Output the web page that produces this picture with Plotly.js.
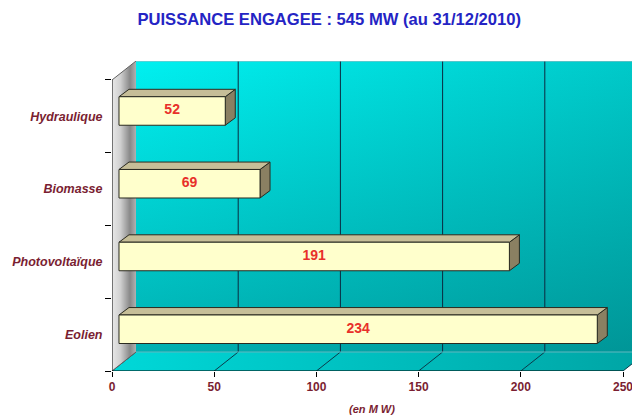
<!DOCTYPE html>
<html>
<head>
<meta charset="utf-8">
<script src="https://cdn.plot.ly/plotly-3.0.1.min.js"></script>
<style>html,body{margin:0;padding:0;background:#fff;}#chart{width:632px;height:416px;}</style>
</head>
<body>
<div id="chart"></div>
<script>
// ---- data ----
const categories = ['Eolien', 'Photovoltaïque', 'Biomasse', 'Hydraulique'];
const values = [234, 191, 69, 52];
const xTicks = [0, 50, 100, 150, 200, 250];
const chartTitle = 'PUISSANCE ENGAGEE : 545 MW (au 31/12/2010)';
const xTitle = '(en M W)';

// ---- 3D geometry (axis units) ----
const X_MAX = 254.4;          // visible x range
const DX = 11.74, DY = 0.261; // full depth of the box
const BX = 3.42, BY = 0.074;  // bar front offset inside box
const BDX = 4.89, BDY = 0.102;// bar depth
const HH = 0.196;             // half bar height
const Y0 = -0.5, Y1 = categories.length - 0.5;
const labelColor = '#7A1E32';
const FONT = 'Liberation Sans, Arial, sans-serif';

const traces = [];
function poly(xs, ys, fill, line, extra) {
  const t = Object.assign({
    type: 'scatter', mode: 'lines', x: xs.concat([xs[0]]), y: ys.concat([ys[0]]),
    fill: 'toself', fillcolor: fill, hoverinfo: 'skip', showlegend: false,
    line: line || {width: 0, color: 'rgba(0,0,0,0)'}
  }, extra || {});
  traces.push(t);
}
const XR = X_MAX + 20;
// back wall
poly([DX, XR, XR, DX], [Y0 + DY, Y0 + DY, Y1 + DY, Y1 + DY], '#00E0E0', null,
  {fillgradient: {type: 'horizontal', colorscale: [[0, '#00F0F0'], [1, '#00C6C6']]}});
poly([DX, XR, XR, DX], [Y0 + DY, Y0 + DY, Y1 + DY, Y1 + DY], 'rgba(0,0,0,0)', null,
  {fillgradient: {type: 'vertical', colorscale: [[0, 'rgba(0,40,45,0.32)'], [1, 'rgba(0,40,45,0)']]}});
// floor
const lastT = xTicks[xTicks.length - 1];
poly([0, lastT, lastT + DX, XR, XR, DX], [Y0, Y0, Y0 + DY, Y0 + DY, Y0 + DY, Y0 + DY], '#00CCCC', null,
  {fillgradient: {type: 'horizontal', colorscale: [[0, '#00D8D8'], [1, '#00A2A2']]}});
// floor grid
const fgx = [], fgy = [], bgx = [], bgy = [];
xTicks.forEach(v => {
  fgx.push(v, v + DX, null); fgy.push(Y0, Y0 + DY, null);
  if (v > 0) { bgx.push(v + DX, v + DX, null); bgy.push(Y0 + DY, Y1 + DY, null); }
});
traces.push({type: 'scatter', mode: 'lines', x: fgx, y: fgy, line: {color: '#0B3A4A', width: 1}, hoverinfo: 'skip', showlegend: false});
traces.push({type: 'scatter', mode: 'lines', x: bgx, y: bgy, line: {color: '#0A2A40', width: 1}, hoverinfo: 'skip', showlegend: false});
// back wall top edge / floor back edge
traces.push({type: 'scatter', mode: 'lines', x: [DX, XR], y: [Y1 + DY, Y1 + DY], line: {color: '#A8B8C0', width: 1.2}, hoverinfo: 'skip', showlegend: false});
traces.push({type: 'scatter', mode: 'lines', x: [DX, XR], y: [Y0 + DY, Y0 + DY], line: {color: '#60B8C0', width: 1}, hoverinfo: 'skip', showlegend: false});
// left wall
poly([0, DX, DX, 0], [Y0, Y0 + DY, Y1 + DY, Y1], '#C0C0C0', null,
  {fillgradient: {type: 'horizontal', colorscale: [[0, '#E8E8E8'], [0.35, '#D0D0D0'], [0.75, '#888888'], [1, '#B0B0B0']]}});
traces.push({type: 'scatter', mode: 'lines', x: [0, DX, null, 0, DX], y: [Y1, Y1 + DY, null, Y0, Y0 + DY], line: {color: '#606060', width: 1}, hoverinfo: 'skip', showlegend: false});

// bars
const edge = {color: '#2A2A20', width: 1};
values.forEach((v, i) => {
  const yb = i + BY - HH, yt = i + BY + HH;
  poly([BX + v, BX + v + BDX, BX + v + BDX, BX + v], [yb, yb + BDY, yt + BDY, yt], '#8A8062', edge);
  poly([BX, BX + v, BX + v + BDX, BX + BDX], [yt, yt, yt + BDY, yt + BDY], '#C6BE98', edge);
  poly([BX, BX + v, BX + v, BX], [yb, yb, yt, yt], '#FFFFCC', edge);
});
traces.push({
  type: 'scatter', mode: 'text', x: values.map(v => BX + v / 2), y: values.map((v, i) => i + BY),
  text: values.map(String), textposition: 'middle center',
  textfont: {family: FONT, size: 14, color: '#E8302A', weight: 'bold'},
  hoverinfo: 'skip', showlegend: false, cliponaxis: false
});

const layout = {
  width: 632, height: 416,
  margin: {l: 112, r: 0, t: 61, b: 45},
  paper_bgcolor: '#ffffff', plot_bgcolor: '#ffffff',
  showlegend: false,
  title: {
    text: chartTitle, x: 0.521, xanchor: 'center', y: 0.954, yanchor: 'middle',
    font: {family: FONT, size: 16.6, weight: 'bold', color: '#2424C4'}
  },
  xaxis: {
    range: [0, X_MAX], tickmode: 'array', tickvals: xTicks, ticktext: xTicks.map(String),
    ticks: 'outside', ticklen: 5, tickcolor: '#000', tickwidth: 1, ticklabeloverflow: 'allow',
    showgrid: false, zeroline: false, showline: false, fixedrange: true,
    tickfont: {family: FONT, size: 12, weight: 'bold', color: labelColor},
    title: {text: xTitle, standoff: 11, font: {family: FONT, size: 11, weight: 'bold', style: 'italic', color: labelColor}}
  },
  yaxis: {
    range: [Y0, Y1 + DY], tickmode: 'array', tickvals: categories.map((c, i) => i), ticktext: categories,
    ticks: 'outside', ticklen: 6, tickcolor: 'rgba(0,0,0,0)',
    minor: {tickmode: 'array', tickvals: categories.map((c, i) => i - 0.5).concat([Y1]), ticks: 'outside', ticklen: 6, tickcolor: '#000', tickwidth: 1},
    showgrid: false, zeroline: false, showline: false, fixedrange: true,
    tickfont: {family: FONT, size: 12.5, weight: 'bold', style: 'italic', color: labelColor}
  },
  shapes: [
    {type: 'line', xref: 'x', yref: 'y', x0: 0, x1: 0, y0: Y0, y1: Y1, line: {color: '#000', width: 1}},
    {type: 'line', xref: 'x', yref: 'y', x0: 0, x1: lastT, y0: Y0, y1: Y0, line: {color: '#000', width: 1}}
  ]
};
Plotly.newPlot('chart', traces, layout, {displayModeBar: false, staticPlot: true});
</script>
</body>
</html>
